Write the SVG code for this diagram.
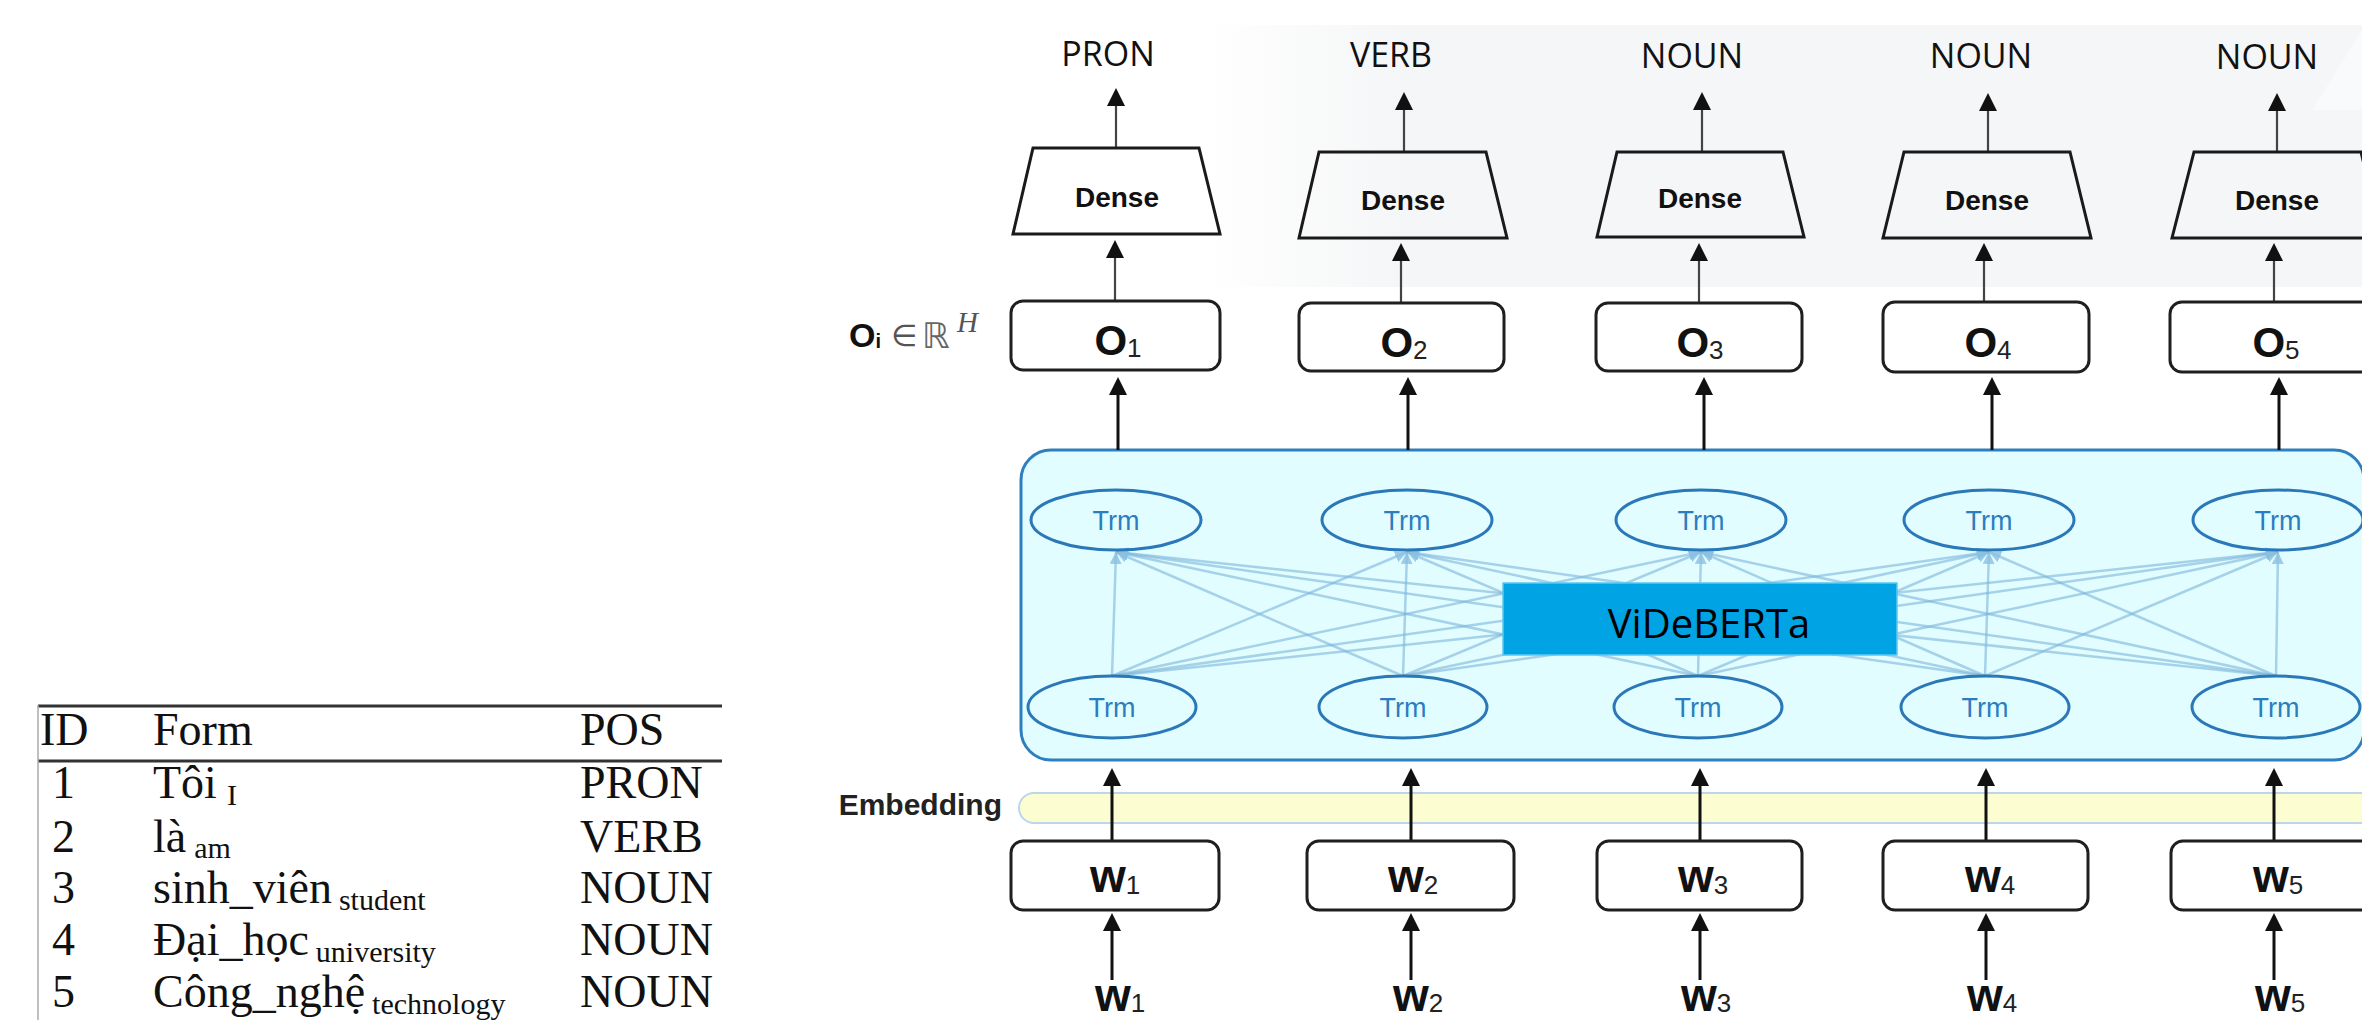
<svg xmlns="http://www.w3.org/2000/svg" width="2362" height="1020" viewBox="0 0 2362 1020">
<style>
.tbl{font-family:"Liberation Serif","Times New Roman",serif;font-size:46px;fill:#111}
.tsub{font-size:30px}
.pos{font-family:"Open Sans","Noto Sans",sans-serif;font-size:34px;fill:#111;text-anchor:middle}
.dense{fill:#fff;fill-opacity:0;stroke:#1a1a1a;stroke-width:3;stroke-linejoin:miter}
.dtxt{font-family:"Liberation Sans",Arial,sans-serif;font-weight:bold;font-size:28px;fill:#111;text-anchor:middle}
.box{fill:#fff;stroke:#1f1f1f;stroke-width:3}
.big{font-family:"Liberation Sans",Arial,sans-serif;font-weight:bold;font-size:42px;fill:#111;text-anchor:middle}
.wb{font-family:"Liberation Sans",Arial,sans-serif;font-weight:bold;font-size:46px;fill:#111;text-anchor:middle}
.sub{font-weight:normal;font-size:26px;fill:#222}
.trm{fill:none;stroke:#2b78b8;stroke-width:3}
.trmt{font-family:"Liberation Sans",Arial,sans-serif;font-size:27px;fill:#2b7dc0;text-anchor:middle}
.lk{stroke:#7db6da;stroke-opacity:0.6;stroke-width:2.5;fill:none}
.ar{stroke:#111;stroke-width:3;fill:none}
.ar2{stroke:#444;stroke-width:2.2;fill:none}
</style>
<defs>
<marker id="ah" viewBox="0 0 18 18" markerWidth="18" markerHeight="18" refX="8" refY="9" orient="auto" markerUnits="userSpaceOnUse">
<path d="M0,0 L18,9 L0,18 z" fill="#111"/>
</marker>
<marker id="ahl" viewBox="0 0 12 12" markerWidth="12" markerHeight="12" refX="12" refY="6" orient="auto" markerUnits="userSpaceOnUse">
<path d="M0,0 L12,6 L0,12 z" fill="#8cc0e0" fill-opacity="0.8"/>
</marker>
<linearGradient id="bgg" gradientUnits="userSpaceOnUse" x1="1200" y1="0" x2="1400" y2="0">
<stop offset="0" stop-color="#ffffff"/>
<stop offset="1" stop-color="#f5f6f7"/>
</linearGradient>
</defs>
<rect width="2362" height="1020" fill="#fff"/>
<rect x="1200" y="25" width="1162" height="262" fill="url(#bgg)"/>
<polygon points="2312,110 2362,30 2362,110" fill="#f9fafb"/>

<!-- Table -->
<g id="table">
<line x1="38" y1="706" x2="722" y2="706" stroke="#333" stroke-width="3"/>
<line x1="38" y1="761" x2="722" y2="761" stroke="#333" stroke-width="3"/>
<line x1="38" y1="705" x2="38" y2="1020" stroke="#aaa" stroke-width="1.5"/>
<text class="tbl" x="40" y="745">ID</text>
<text class="tbl" x="153" y="745">Form</text>
<text class="tbl" x="580" y="745">POS</text>
<text class="tbl" x="52" y="798">1</text>
<text class="tbl" x="153" y="798">Tôi<tspan class="tsub" dx="10" dy="7">I</tspan></text>
<text class="tbl" x="580" y="798">PRON</text>
<text class="tbl" x="52" y="852">2</text>
<text class="tbl" x="153" y="852">là<tspan class="tsub" dx="8" dy="6">am</tspan></text>
<text class="tbl" x="580" y="852">VERB</text>
<text class="tbl" x="52" y="903">3</text>
<text class="tbl" x="153" y="903">sinh_viên<tspan class="tsub" dx="7" dy="7">student</tspan></text>
<text class="tbl" x="580" y="903">NOUN</text>
<text class="tbl" x="52" y="955">4</text>
<text class="tbl" x="153" y="955">Đại_học<tspan class="tsub" dx="7" dy="7">university</tspan></text>
<text class="tbl" x="580" y="955">NOUN</text>
<text class="tbl" x="52" y="1007">5</text>
<text class="tbl" x="153" y="1007">Công_nghệ<tspan class="tsub" dx="7" dy="7">technology</tspan></text>
<text class="tbl" x="580" y="1007">NOUN</text>
</g>

<!-- O label -->
<g id="o-label">
<text x="849" y="347" font-family="Liberation Sans,Arial,sans-serif" font-weight="bold" font-size="34" fill="#111">O<tspan font-size="20" dy="1">i</tspan></text>
<text x="891" y="346" font-family="DejaVu Sans,sans-serif" font-size="30" fill="#555">∈</text>
<text x="922" y="348" font-family="DejaVu Sans,sans-serif" font-size="35" fill="#666">ℝ</text>
<text x="957" y="332" font-family="Liberation Serif,serif" font-style="italic" font-size="29" fill="#555">H</text>
</g>

<!-- Encoder box -->
<g id="encoder">
<rect x="1021" y="450" width="1343" height="310" rx="30" fill="#e1fdff" stroke="#2f7fbf" stroke-width="3"/>
</g>

<!-- Embedding bar -->
<g id="embedding">
<rect x="1019" y="793" width="1400" height="30" rx="15" fill="#fdfdd2" stroke="#bcd6ea" stroke-width="2"/>
<text x="1002" y="815" text-anchor="end" font-family="Liberation Sans,Arial,sans-serif" font-weight="bold" font-size="30" fill="#222">Embedding</text>
</g>

<!-- Connectors -->
<g id="connectors">
<g id="trm-links">
<line class="lk" x1="1112" y1="676" x2="1116" y2="552" marker-end="url(#ahl)"/>
<line class="lk" x1="1112" y1="676" x2="1407" y2="552" marker-end="url(#ahl)"/>
<line class="lk" x1="1112" y1="676" x2="1701" y2="552" marker-end="url(#ahl)"/>
<line class="lk" x1="1112" y1="676" x2="1989" y2="552" marker-end="url(#ahl)"/>
<line class="lk" x1="1112" y1="676" x2="2278" y2="552" marker-end="url(#ahl)"/>
<line class="lk" x1="1403" y1="676" x2="1116" y2="552" marker-end="url(#ahl)"/>
<line class="lk" x1="1403" y1="676" x2="1407" y2="552" marker-end="url(#ahl)"/>
<line class="lk" x1="1403" y1="676" x2="1701" y2="552" marker-end="url(#ahl)"/>
<line class="lk" x1="1403" y1="676" x2="1989" y2="552" marker-end="url(#ahl)"/>
<line class="lk" x1="1403" y1="676" x2="2278" y2="552" marker-end="url(#ahl)"/>
<line class="lk" x1="1698" y1="676" x2="1116" y2="552" marker-end="url(#ahl)"/>
<line class="lk" x1="1698" y1="676" x2="1407" y2="552" marker-end="url(#ahl)"/>
<line class="lk" x1="1698" y1="676" x2="1701" y2="552" marker-end="url(#ahl)"/>
<line class="lk" x1="1698" y1="676" x2="1989" y2="552" marker-end="url(#ahl)"/>
<line class="lk" x1="1698" y1="676" x2="2278" y2="552" marker-end="url(#ahl)"/>
<line class="lk" x1="1985" y1="676" x2="1116" y2="552" marker-end="url(#ahl)"/>
<line class="lk" x1="1985" y1="676" x2="1407" y2="552" marker-end="url(#ahl)"/>
<line class="lk" x1="1985" y1="676" x2="1701" y2="552" marker-end="url(#ahl)"/>
<line class="lk" x1="1985" y1="676" x2="1989" y2="552" marker-end="url(#ahl)"/>
<line class="lk" x1="1985" y1="676" x2="2278" y2="552" marker-end="url(#ahl)"/>
<line class="lk" x1="2276" y1="676" x2="1116" y2="552" marker-end="url(#ahl)"/>
<line class="lk" x1="2276" y1="676" x2="1407" y2="552" marker-end="url(#ahl)"/>
<line class="lk" x1="2276" y1="676" x2="1701" y2="552" marker-end="url(#ahl)"/>
<line class="lk" x1="2276" y1="676" x2="1989" y2="552" marker-end="url(#ahl)"/>
<line class="lk" x1="2276" y1="676" x2="2278" y2="552" marker-end="url(#ahl)"/>
</g>
<line class="ar2" x1="1116" y1="148" x2="1116" y2="98" marker-end="url(#ah)"/>
<line class="ar2" x1="1404" y1="152" x2="1404" y2="102" marker-end="url(#ah)"/>
<line class="ar2" x1="1702" y1="152" x2="1702" y2="102" marker-end="url(#ah)"/>
<line class="ar2" x1="1988" y1="152" x2="1988" y2="103" marker-end="url(#ah)"/>
<line class="ar2" x1="2277" y1="152" x2="2277" y2="103" marker-end="url(#ah)"/>
<line class="ar2" x1="1115" y1="301" x2="1115" y2="250" marker-end="url(#ah)"/>
<line class="ar2" x1="1401" y1="303" x2="1401" y2="253" marker-end="url(#ah)"/>
<line class="ar2" x1="1699" y1="303" x2="1699" y2="253" marker-end="url(#ah)"/>
<line class="ar2" x1="1984" y1="302" x2="1984" y2="253" marker-end="url(#ah)"/>
<line class="ar2" x1="2274" y1="302" x2="2274" y2="253" marker-end="url(#ah)"/>
<line class="ar" x1="1118" y1="450" x2="1118" y2="387" marker-end="url(#ah)"/>
<line class="ar" x1="1408" y1="450" x2="1408" y2="387" marker-end="url(#ah)"/>
<line class="ar" x1="1704" y1="450" x2="1704" y2="387" marker-end="url(#ah)"/>
<line class="ar" x1="1992" y1="450" x2="1992" y2="387" marker-end="url(#ah)"/>
<line class="ar" x1="2279" y1="450" x2="2279" y2="387" marker-end="url(#ah)"/>
<line class="ar" x1="1112" y1="840" x2="1112" y2="778" marker-end="url(#ah)"/>
<line class="ar" x1="1411" y1="840" x2="1411" y2="778" marker-end="url(#ah)"/>
<line class="ar" x1="1700" y1="840" x2="1700" y2="778" marker-end="url(#ah)"/>
<line class="ar" x1="1986" y1="840" x2="1986" y2="778" marker-end="url(#ah)"/>
<line class="ar" x1="2274" y1="840" x2="2274" y2="778" marker-end="url(#ah)"/>
<line class="ar" x1="1112" y1="980" x2="1112" y2="923" marker-end="url(#ah)"/>
<line class="ar" x1="1411" y1="980" x2="1411" y2="923" marker-end="url(#ah)"/>
<line class="ar" x1="1700" y1="980" x2="1700" y2="923" marker-end="url(#ah)"/>
<line class="ar" x1="1986" y1="980" x2="1986" y2="923" marker-end="url(#ah)"/>
<line class="ar" x1="2274" y1="980" x2="2274" y2="923" marker-end="url(#ah)"/>
</g>

<g id="videberta">
<rect x="1503" y="583" width="394" height="72" fill="#00a3e4" stroke="#5cc8f0" stroke-width="1.5"/>
<text x="1709" y="638" text-anchor="middle" font-family="Open Sans,Noto Sans,sans-serif" font-size="40" fill="#000">ViDeBERTa</text>
</g>

<g id="trm-top-1"><ellipse class="trm" cx="1116" cy="520" rx="85" ry="30"/><text class="trmt" x="1116" y="530">Trm</text></g>
<g id="trm-top-2"><ellipse class="trm" cx="1407" cy="520" rx="85" ry="30"/><text class="trmt" x="1407" y="530">Trm</text></g>
<g id="trm-top-3"><ellipse class="trm" cx="1701" cy="520" rx="85" ry="30"/><text class="trmt" x="1701" y="530">Trm</text></g>
<g id="trm-top-4"><ellipse class="trm" cx="1989" cy="520" rx="85" ry="30"/><text class="trmt" x="1989" y="530">Trm</text></g>
<g id="trm-top-5"><ellipse class="trm" cx="2278" cy="520" rx="85" ry="30"/><text class="trmt" x="2278" y="530">Trm</text></g>
<g id="trm-bot-1"><ellipse class="trm" cx="1112" cy="707" rx="84" ry="31"/><text class="trmt" x="1112" y="717">Trm</text></g>
<g id="trm-bot-2"><ellipse class="trm" cx="1403" cy="707" rx="84" ry="31"/><text class="trmt" x="1403" y="717">Trm</text></g>
<g id="trm-bot-3"><ellipse class="trm" cx="1698" cy="707" rx="84" ry="31"/><text class="trmt" x="1698" y="717">Trm</text></g>
<g id="trm-bot-4"><ellipse class="trm" cx="1985" cy="707" rx="84" ry="31"/><text class="trmt" x="1985" y="717">Trm</text></g>
<g id="trm-bot-5"><ellipse class="trm" cx="2276" cy="707" rx="84" ry="31"/><text class="trmt" x="2276" y="717">Trm</text></g>

<g id="label-1"><text class="pos" x="1108" y="66">PRON</text></g>
<g id="label-2"><text class="pos" x="1391" y="67">VERB</text></g>
<g id="label-3"><text class="pos" x="1692" y="68">NOUN</text></g>
<g id="label-4"><text class="pos" x="1981" y="68">NOUN</text></g>
<g id="label-5"><text class="pos" x="2267" y="69">NOUN</text></g>

<g id="dense-1"><polygon class="dense" points="1033,148 1199,148 1220,234 1013,234"/><text class="dtxt" x="1117" y="207">Dense</text></g>
<g id="dense-2"><polygon class="dense" points="1319,152 1486,152 1507,238 1299,238"/><text class="dtxt" x="1403" y="210">Dense</text></g>
<g id="dense-3"><polygon class="dense" points="1617,152 1783,152 1804,237 1597,237"/><text class="dtxt" x="1700" y="208">Dense</text></g>
<g id="dense-4"><polygon class="dense" points="1904,152 2070,152 2091,238 1883,238"/><text class="dtxt" x="1987" y="210">Dense</text></g>
<g id="dense-5"><polygon class="dense" points="2194,152 2361,152 2382,238 2172,238"/><text class="dtxt" x="2277" y="210">Dense</text></g>

<g id="o-1"><rect class="box" x="1011" y="301" width="209" height="69" rx="12"/><text class="big" x="1118" y="355">O<tspan class="sub" dy="2">1</tspan></text></g>
<g id="o-2"><rect class="box" x="1299" y="303" width="205" height="68" rx="12"/><text class="big" x="1404" y="357">O<tspan class="sub" dy="2">2</tspan></text></g>
<g id="o-3"><rect class="box" x="1596" y="303" width="206" height="68" rx="12"/><text class="big" x="1700" y="357">O<tspan class="sub" dy="2">3</tspan></text></g>
<g id="o-4"><rect class="box" x="1883" y="302" width="206" height="70" rx="12"/><text class="big" x="1988" y="357">O<tspan class="sub" dy="2">4</tspan></text></g>
<g id="o-5"><rect class="box" x="2170" y="302" width="208" height="70" rx="12"/><text class="big" x="2276" y="357">O<tspan class="sub" dy="2">5</tspan></text></g>

<g id="w-1"><rect class="box" x="1011" y="841" width="208" height="69" rx="12"/><text class="wb" x="1115" y="892">w<tspan class="sub" dy="2">1</tspan></text></g>
<g id="w-2"><rect class="box" x="1307" y="841" width="207" height="69" rx="12"/><text class="wb" x="1413" y="892">w<tspan class="sub" dy="2">2</tspan></text></g>
<g id="w-3"><rect class="box" x="1597" y="841" width="205" height="69" rx="12"/><text class="wb" x="1703" y="892">w<tspan class="sub" dy="2">3</tspan></text></g>
<g id="w-4"><rect class="box" x="1883" y="841" width="205" height="69" rx="12"/><text class="wb" x="1990" y="892">w<tspan class="sub" dy="2">4</tspan></text></g>
<g id="w-5"><rect class="box" x="2171" y="841" width="207" height="69" rx="12"/><text class="wb" x="2278" y="892">w<tspan class="sub" dy="2">5</tspan></text></g>

<g id="in-1"><text class="wb" x="1120" y="1011">w<tspan class="sub" dy="1">1</tspan></text></g>
<g id="in-2"><text class="wb" x="1418" y="1011">w<tspan class="sub" dy="1">2</tspan></text></g>
<g id="in-3"><text class="wb" x="1706" y="1011">w<tspan class="sub" dy="1">3</tspan></text></g>
<g id="in-4"><text class="wb" x="1992" y="1011">w<tspan class="sub" dy="1">4</tspan></text></g>
<g id="in-5"><text class="wb" x="2280" y="1011">w<tspan class="sub" dy="1">5</tspan></text></g>
</svg>
